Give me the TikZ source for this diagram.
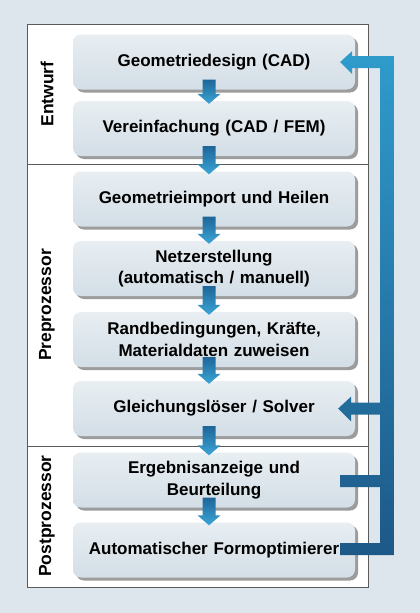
\documentclass[tikz,border=0pt]{standalone}
\usepackage{fontspec}
\setmainfont{Liberation Sans}
\usetikzlibrary{calc,shadows}
\definecolor{bgc}{HTML}{DCE6EC}
\definecolor{panelline}{HTML}{5A5A5A}
\definecolor{boxtop}{HTML}{E8EEF2}
\definecolor{boxbot}{HTML}{D3DEE6}
\definecolor{shadowc}{HTML}{9C9C9C}
\definecolor{arrTop}{HTML}{1E6699}
\definecolor{arrBot}{HTML}{3BA5D5}
\definecolor{fbTop}{HTML}{2F9CCC}
\definecolor{fbBot}{HTML}{1D5888}
\newcommand\flowarrow[2]{%
  \shade[top color=arrTop,bottom color=arrBot]
    ($(#1.south)+(-11.5,-10)$) -- ($(#1.south)+(1.5,-10)$)
    -- ($(#2.north)+(1.5,-7)$) -- ($(#2.north)+(6.5,-7)$)
    -- ($(#2.north)+(-5,3)$) -- ($(#2.north)+(-16.5,-7)$)
    -- ($(#2.north)+(-11.5,-7)$) -- cycle;}
\tikzset{
  stepbox/.style={rounded corners=8pt, top color=boxtop, bottom color=boxbot,
    drop shadow={shadow xshift=3pt, shadow yshift=-3pt, fill=shadowc, opacity=1},
    minimum width=282pt, minimum height=55pt, inner sep=0pt, align=center,
    text width=278pt, font=\fontsize{17}{21.5}\selectfont\bfseries, text=black},
  phase/.style={rotate=90, font=\fontsize{17.5}{20}\selectfont\bfseries, text=black},
  sepline/.style={draw=panelline, line width=0.9pt}
}
\begin{document}
\begin{tikzpicture}[x=1pt,y=-1pt]
\fill[bgc] (0,0) rectangle (420,613);
\useasboundingbox (0,0) rectangle (420,613);
\filldraw[fill=white, sepline] (27,24) rectangle (368,587);
\draw[sepline] (27,164) -- (368,164);
\draw[sepline] (27,446) -- (368,446);

\node[stepbox] (g1) at (214,62) {Geometriedesign (CAD)\vphantom{p}};
\node[stepbox] (g2) at (214,128.5) {Vereinfachung (CAD / FEM)};
\node[stepbox] (g3) at (214,199) {Geometrieimport und Heilen};
\node[stepbox] (g4) at (214,268.5) {Netzerstellung\\(automatisch / manuell)};
\node[stepbox] (g5) at (214,339.5) {Randbedingungen, Kräfte,\\Materialdaten zuweisen};
\node[stepbox] (g6) at (214,408.5) {Gleichungslöser / Solver};
\node[stepbox] (g7) at (214,480) {Ergebnisanzeige und\\Beurteilung};
\node[stepbox] (g8) at (214,550) {Automatischer Formoptimierer};

\flowarrow{g1}{g2}
\flowarrow{g2}{g3}
\flowarrow{g3}{g4}
\flowarrow{g4}{g5}
\flowarrow{g5}{g6}
\flowarrow{g6}{g7}
\flowarrow{g7}{g8}

\coordinate (bl) at (380,0);
\coordinate (br) at (394,0);
\coordinate (a1) at ($(g1.east)+(-15,0)$);
\shade[top color=fbTop, bottom color=fbBot]
  (a1) -- ++(12,-11) -- ++(0,5) -- ($(br |- a1)+(0,-6)$)
  -- ($(br |- g8.east)+(0,5)$) -- ($(g8.east)+(-15,5)$) -- ++(0,-12)
  -- ($(bl |- g8.east)+(0,-7)$) -- ($(bl |- g7.east)+(0,7)$)
  -- ($(g7.east)+(-15,7)$) -- ++(0,-12) -- ($(bl |- g7.east)+(0,-5)$)
  -- ($(bl |- g6.east)+(0,6)$) -- ($(g6.east)+(-4,6)$) -- ++(0,7)
  -- ($(g6.east)+(-17,0)$) -- ++(13,-12) -- ++(0,6)
  -- ($(bl |- g6.east)+(0,-6)$) -- ($(bl |- a1)+(0,6)$)
  -- ($(a1)+(12,6)$) -- ++(0,6) -- cycle;

\node[phase] (p1) at (47,94) {Entwurf};
\node[phase] (p2) at (47,305) {Preprozessor};
\node[phase] (p3) at (47,516) {Postprozessor};
\end{tikzpicture}
\end{document}
